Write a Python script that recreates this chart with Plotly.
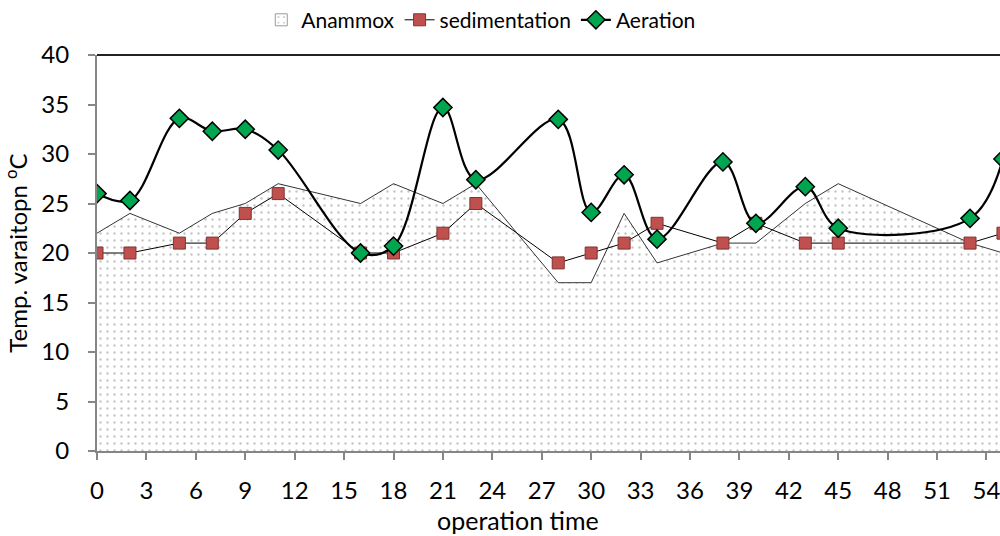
import plotly.graph_objects as go

time = [0, 2, 5, 7, 9, 11, 16, 18, 21, 23, 28, 30, 32, 34, 38, 40, 43, 45, 53, 55]
anammox = [22, 24, 22, 24, 25, 27, 25, 27, 25, 27, 17, 17, 24, 19, 21, 21, 25, 27, 21, 20]
sedimentation = [20, 20, 21, 21, 24, 26, 20, 20, 22, 25, 19, 20, 21, 23, 21, 23, 21, 21, 21, 22]
aeration = [26, 25.3, 33.6, 32.3, 32.5, 30.4, 20, 20.7, 34.7, 27.4, 33.5, 24.1, 27.9, 21.4, 29.2, 23.0, 26.7, 22.5, 23.5, 29.5]

x_ticks = list(range(0, 55, 3))
y_ticks = list(range(0, 41, 5))

FONT = "Lato"
AX = 24
PATTERN = dict(shape=".", size=7, solidity=0.09, fgcolor="#8a8a8a", bgcolor="#ffffff")

fig = go.Figure()
# legend entry for the patterned area (rectangle swatch)
fig.add_trace(go.Bar(
    x=[None], y=[None], name="Anammox",
    marker=dict(color="#ffffff", pattern=PATTERN, line=dict(color="#9a9a9a", width=1)),
))
fig.add_trace(go.Scatter(
    x=time, y=anammox, name="Anammox", mode="lines", showlegend=False,
    line=dict(color="black", width=0.8),
    fill="tozeroy", fillpattern=PATTERN, fillcolor="#ffffff",
))
fig.add_trace(go.Scatter(
    x=time, y=sedimentation, name="sedimentation", mode="lines+markers",
    line=dict(color="black", width=1),
    marker=dict(symbol="square", size=12, color="#C0504D", line=dict(color="#7f3331", width=1)),
))
fig.add_trace(go.Scatter(
    x=time, y=aeration, name="Aeration", mode="lines+markers",
    line=dict(color="black", width=2.2, shape="spline", smoothing=1.0),
    marker=dict(symbol="diamond", size=14, color="#00A54F", line=dict(color="black", width=1.5)),
))

fig.update_layout(
    width=1000, height=536,
    margin=dict(l=97, r=0, t=55, b=85, autoexpand=False),
    plot_bgcolor="white", paper_bgcolor="white",
    font=dict(family=FONT, size=AX, color="black"),
    showlegend=True,
    legend=dict(orientation="h", x=0.425, xanchor="center", y=1.088, yanchor="middle",
                font=dict(family=FONT, size=21), itemwidth=30, tracegroupgap=0,
                traceorder="normal", bgcolor="rgba(0,0,0,0)"),
    xaxis=dict(range=[0, 54.82], tickmode="array", tickvals=x_ticks, ticktext=[str(v) for v in x_ticks],
               showgrid=False, zeroline=False, showline=True, linecolor="#868686", linewidth=2,
               ticks="outside", ticklen=7, tickcolor="#868686", tickwidth=1.5, ticklabelstandoff=10,
               ticklabeloverflow="allow",
               tickfont=dict(family=FONT, size=AX)),
    yaxis=dict(range=[0, 40], tickmode="array", tickvals=y_ticks, ticktext=[str(v) for v in y_ticks],
               showgrid=False, zeroline=False, showline=True, linecolor="#868686", linewidth=2,
               ticks="outside", ticklen=7, tickcolor="#868686", tickwidth=1.5, ticklabelstandoff=14,
               tickfont=dict(family=FONT, size=AX),
               title=dict(text="Temp. varaitopn <sup>o</sup>C", font=dict(family=FONT, size=AX), standoff=8)),
    annotations=[dict(text="operation time", xref="paper", yref="paper", x=0.466, y=-0.175,
                      xanchor="center", yanchor="middle", showarrow=False,
                      font=dict(family=FONT, size=25))],
)
fig.add_shape(type="line", xref="paper", yref="paper", x0=0, x1=1, y0=1, y1=1,
              line=dict(color="#222222", width=2))

fig.write_html("out.html", config={"displayModeBar": False},
               post_script="document.body.style.margin='0px';document.body.style.overflow='hidden';")
